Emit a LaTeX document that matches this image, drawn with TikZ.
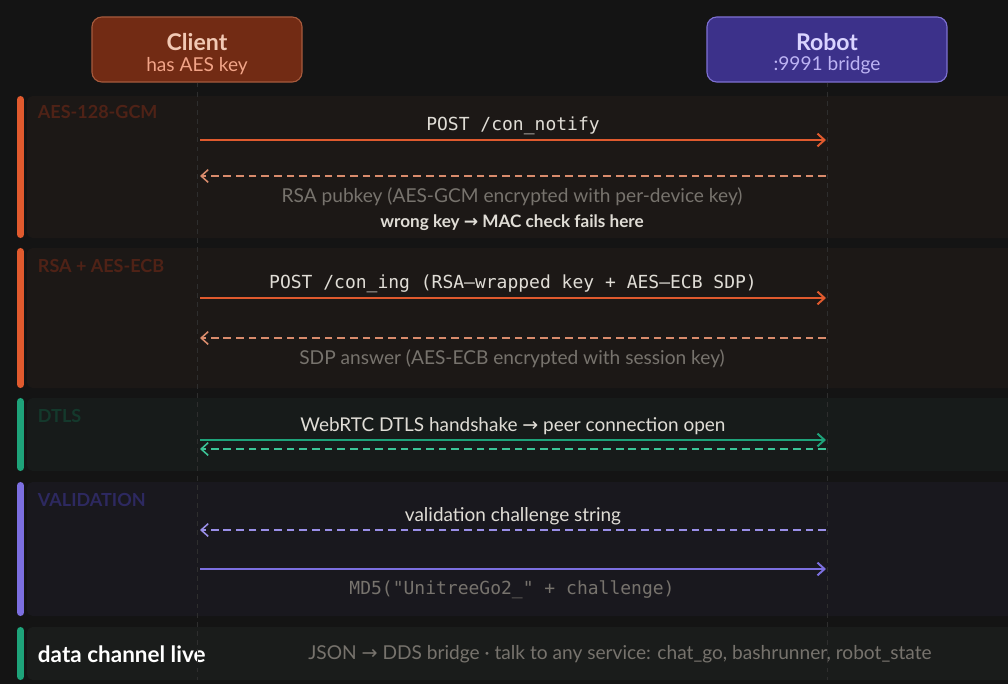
\documentclass[tikz,border=0pt]{standalone}
\usepackage{fontspec}
\setmainfont{Lato}
\setmonofont{DejaVu Sans Mono}
\newfontfamily\symfont{DejaVu Sans}
\usetikzlibrary{arrows.meta}
\newcommand{\rarr}{{\symfont\char"2192}}

\definecolor{bgdark}{HTML}{141414}
\definecolor{lifegray}{HTML}{2E2E2E}
\definecolor{clientfill}{HTML}{722B14}
\definecolor{clientedge}{HTML}{A65A3C}
\definecolor{clienttxt}{HTML}{F2C9B4}
\definecolor{clientsub}{HTML}{F2A488}
\definecolor{robotfill}{HTML}{3C318A}
\definecolor{robotedge}{HTML}{7D70D2}
\definecolor{robottxt}{HTML}{DAD4FF}
\definecolor{robotsub}{HTML}{BDB4F4}
\definecolor{aespanel}{HTML}{1C1816}
\definecolor{dtlspanel}{HTML}{171B1A}
\definecolor{valpanel}{HTML}{19181E}
\definecolor{livepanel}{HTML}{1A1C1B}
\definecolor{rsaorange}{HTML}{E05A2E}
\definecolor{rsasalmon}{HTML}{D98B6C}
\definecolor{dtlsgreen}{HTML}{1EA37A}
\definecolor{dtlsmint}{HTML}{3CC497}
\definecolor{valpurple}{HTML}{7C6FE0}
\definecolor{vallilac}{HTML}{9A8FE8}
\definecolor{aeslabel}{HTML}{4F2216}
\definecolor{dtlslabel}{HTML}{14392C}
\definecolor{vallabel}{HTML}{2D2960}
\definecolor{msgtxt}{HTML}{E0DDD6}
\definecolor{notetxt}{HTML}{77736D}

\begin{document}
\begin{tikzpicture}[x=0.025cm, y=-0.025cm,
  actor/.style={rounded corners=7pt, draw, line width=0.8pt, minimum height=1.625cm},
  lifeline/.style={draw=lifegray, dash pattern=on 3.5pt off 3pt, line width=0.7pt},
  panel/.style={rounded corners=4pt},
  phasebar/.style={line width=5pt, line cap=round},
  phase/.style={anchor=west, font=\bfseries\fontsize{12.8}{15}\selectfont},
  msg/.style={line width=1.4pt, -{Straight Barb[length=5pt,width=9pt]}},
  reply/.style={line width=1.1pt, dash pattern=on 5.5pt off 3.5pt,
    -{Straight Barb[length=5pt,width=9pt]}},
  lbl/.style={text=msgtxt, font=\fontsize{13.5}{16}\selectfont},
  code/.style={text=msgtxt, font=\ttfamily\fontsize{12.8}{15}\selectfont},
  note/.style={text=notetxt, font=\fontsize{13.6}{16}\selectfont}
]
  \useasboundingbox[fill=bgdark] (0,0) rectangle (1008,684);

  % phase panels
  \fill[panel, aespanel] (27,96) rectangle (1020,238);
  \fill[panel, aespanel] (27,248) rectangle (1020,388);
  \fill[panel, dtlspanel] (27,398) rectangle (1020,471);
  \fill[panel, valpanel] (27,482) rectangle (1020,616);
  \fill[panel, livepanel] (27,627) rectangle (1020,680);
  \draw[phasebar, rsaorange] (20.5,99.5) -- (20.5,234.5);
  \draw[phasebar, rsaorange] (20.5,251.5) -- (20.5,384.5);
  \draw[phasebar, dtlsgreen] (20.5,401.5) -- (20.5,467.5);
  \draw[phasebar, valpurple] (20.5,485.5) -- (20.5,612.5);
  \draw[phasebar, dtlsgreen] (20.5,630.5) -- (20.5,676.5);
  \node[phase, text=aeslabel] (pAES) at (33,112) {AES-128-GCM};
  \node[phase, text=aeslabel] (pRSA) at (33,266) {RSA + AES-ECB};
  \node[phase, text=dtlslabel] (pDTLS) at (33,416) {DTLS};
  \node[phase, text=vallabel] (pVAL) at (33,500) {VALIDATION};
  \node[anchor=west, text=white, font=\bfseries\fontsize{16}{19}\selectfont]
    (pLIVE) at (33,654) {data channel live};

  % actors
  \node[actor, minimum width=5.25cm, fill=clientfill, draw=clientedge] (client) at (197,49.5) {};
  \node[text=clienttxt, font=\bfseries\fontsize{16.4}{19}\selectfont] (clientT) at (197,42) {Client};
  \node[text=clientsub, font=\fontsize{13.6}{16}\selectfont] (clientS) at (197,66) {has AES key};
  \node[actor, minimum width=6cm, fill=robotfill, draw=robotedge] (robot) at (827,49.5) {};
  \node[text=robottxt, font=\bfseries\fontsize{16.4}{19}\selectfont] (robotT) at (827,42) {Robot};
  \node[text=robotsub, font=\fontsize{13.6}{16}\selectfont] (robotS) at (827,65) {:9991 bridge};

  \coordinate (cEnd) at (197,680);
  \coordinate (rEnd) at (827,680);
  \draw[lifeline] (client.south) -- (cEnd);
  \draw[lifeline] (robot.south) -- (rEnd);

  % message end points
  \foreach \n/\y in {1/140,2/176,3/298,4/338,5/440,6/449,7/530,8/569} {
    \coordinate (c\n) at (200,\y);
    \coordinate (r\n) at (826,\y);
  }

  % AES-128-GCM
  \draw[msg, rsaorange] (c1) -- node[code, above=0pt] (m1) {POST /con\_notify} (r1);
  \draw[reply, rsasalmon] (r2) -- (c2);
  \node[note] (n2) at (512,197) {RSA pubkey (AES-GCM encrypted with per-device key)};
  \node[text=msgtxt, font=\bfseries\fontsize{12.2}{14}\selectfont] (n2b) at (512,223)
    {wrong key \rarr{} MAC check fails here};

  % RSA + AES-ECB
  \draw[msg, rsaorange] (c3) -- node[code, above=0pt] (m3)
    {POST /con\_ing (RSA–wrapped key + AES–ECB SDP)} (r3);
  \draw[reply, rsasalmon] (r4) -- (c4);
  \node[note] (n4) at (512,359) {SDP answer (AES-ECB encrypted with session key)};

  % DTLS
  \draw[msg, dtlsgreen] (c5) -- node[lbl, above=0pt] (m5)
    {WebRTC DTLS handshake \rarr{} peer connection open} (r5);
  \draw[reply, dtlsmint] (r6) -- (c6);

  % VALIDATION
  \draw[reply, vallilac] (r7) -- node[lbl, above=0pt] (m7) {validation challenge string} (c7);
  \draw[msg, valpurple] (c8) -- (r8);
  \node[code, text=notetxt] (n8) at (512,590) {MD5("UnitreeGo2\_" + challenge)};

  % data channel live
  \node[note] (n9) at (620,654)
    {JSON \rarr{} DDS bridge · talk to any service: chat\_go, bashrunner, robot\_state};
\end{tikzpicture}
\end{document}
